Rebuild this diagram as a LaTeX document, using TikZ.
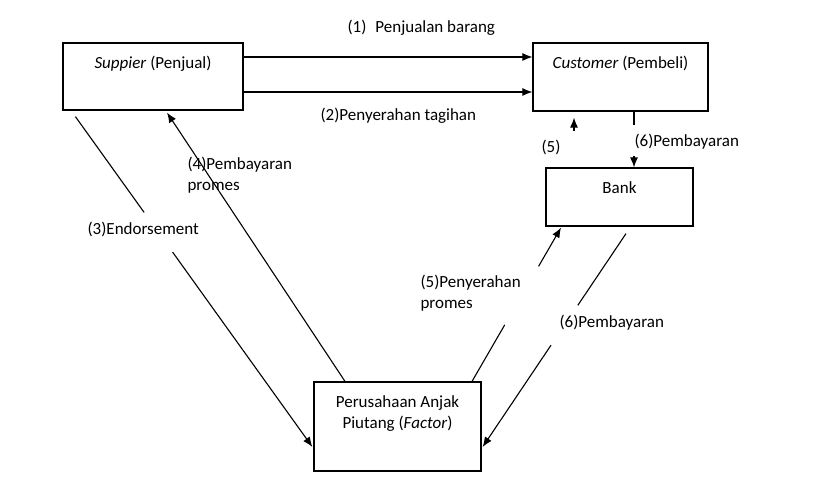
\documentclass[tikz,border=0pt]{standalone}
\usepackage{fontspec}
\setmainfont{Carlito}
\usetikzlibrary{positioning,arrows.meta,calc}

\begin{document}
\begin{tikzpicture}[x=1pt,y=-1pt,line width=1.1pt,
        font=\fontsize{17}{21}\selectfont,
        box/.style={draw,line width=1.2pt,inner sep=0pt},
        arr/.style={-{Latex[length=10pt,width=8pt]}},
        lbl/.style={anchor=west,inner sep=0pt,align=left}]
        \useasboundingbox (0,0) rectangle (822,481);
        % boxes
        \node[box,minimum width=180pt,minimum height=67pt,
            label={[anchor=north,yshift=-10pt]north:\textit{Suppier} (Penjual)}] (sup) at (153,76.5) {};
        \node[box,minimum width=175pt,minimum height=68pt,
            label={[anchor=north,yshift=-10pt]north:\textit{Customer} (Pembeli)}] (cus) at (620.5,77) {};
        \node[box,minimum width=147pt,minimum height=58pt,
            label={[anchor=north,yshift=-10pt]north:Bank}] (bank) at (619.5,197) {};
        \node[box,minimum width=167pt,minimum height=89pt,
            label={[anchor=north,yshift=-10pt,align=center]north:Perusahaan Anjak\\Piutang (\textit{Factor})}] (fac) at (397.5,426.5) {};
        % (1) and (2)
        \draw[arr] ([yshift=19.5pt]sup.east) coordinate (e1s) -- (e1s -| cus.west);
        \draw[arr] ([yshift=-15.5pt]sup.east) coordinate (e2s) -- (e2s -| cus.west);
        % (3)
        \coordinate (e3s) at ([xshift=13pt,yshift=-6pt]sup.south west);
        \coordinate (e3t) at ([xshift=-1pt,yshift=-20.5pt]fac.west);
        \draw (e3s) -- ($(e3s)!0.29!(e3t)$);
        \draw[arr] ($(e3s)!0.41!(e3t)$) -- (e3t);
        % (4)
        \draw[arr] ([xshift=-52.5pt]fac.north) -- ([xshift=14pt,yshift=-2pt]sup.south);
        % (5)
        \coordinate (e5s) at ([xshift=74.5pt]fac.north);
        \coordinate (e5t) at ([xshift=-58.5pt,yshift=-1pt]bank.south);
        \draw (e5s) -- ($(e5s)!0.368!(e5t)$);
        \draw[arr] ($(e5s)!0.748!(e5t)$) -- (e5t);
        \draw[arr] ([xshift=-46.5pt,yshift=-19pt]cus.south) -- ([xshift=-46.5pt,yshift=-6pt]cus.south);
        % (6)
        \coordinate (e6s) at ([xshift=6.5pt,yshift=-7pt]bank.south);
        \coordinate (e6t) at ([xshift=1pt,yshift=-20.5pt]fac.east);
        \draw (e6s) -- ($(e6s)!0.336!(e6t)$);
        \draw[arr] ($(e6s)!0.523!(e6t)$) -- (e6t);
        \coordinate (e6a) at ([xshift=13.5pt]cus.south);
        \draw (e6a) -- ++(0,13);
        \draw[arr] ($(e6a |- bank.north)+(0,-11)$) -- (e6a |- bank.north);
        % labels
        \node[lbl] (l1) at (347,28) {(1)\hspace{9pt}Penjualan barang};
        \node[lbl] (l2) at (320,116) {(2)Penyerahan tagihan};
        \node[lbl] (l3) at (87,229) {(3)Endorsement};
        \node[lbl] (l4) at (187,175) {(4)Pembayaran\\promes};
        \node[lbl] (l5) at (420,293.5) {(5)Penyerahan\\promes};
        \node[lbl] (l5b) at (541,147) {(5)};
        \node[lbl] (l6) at (634,142) {(6)Pembayaran};
        \node[lbl] (l6b) at (559,323) {(6)Pembayaran};
    \end{tikzpicture}
\end{document}
